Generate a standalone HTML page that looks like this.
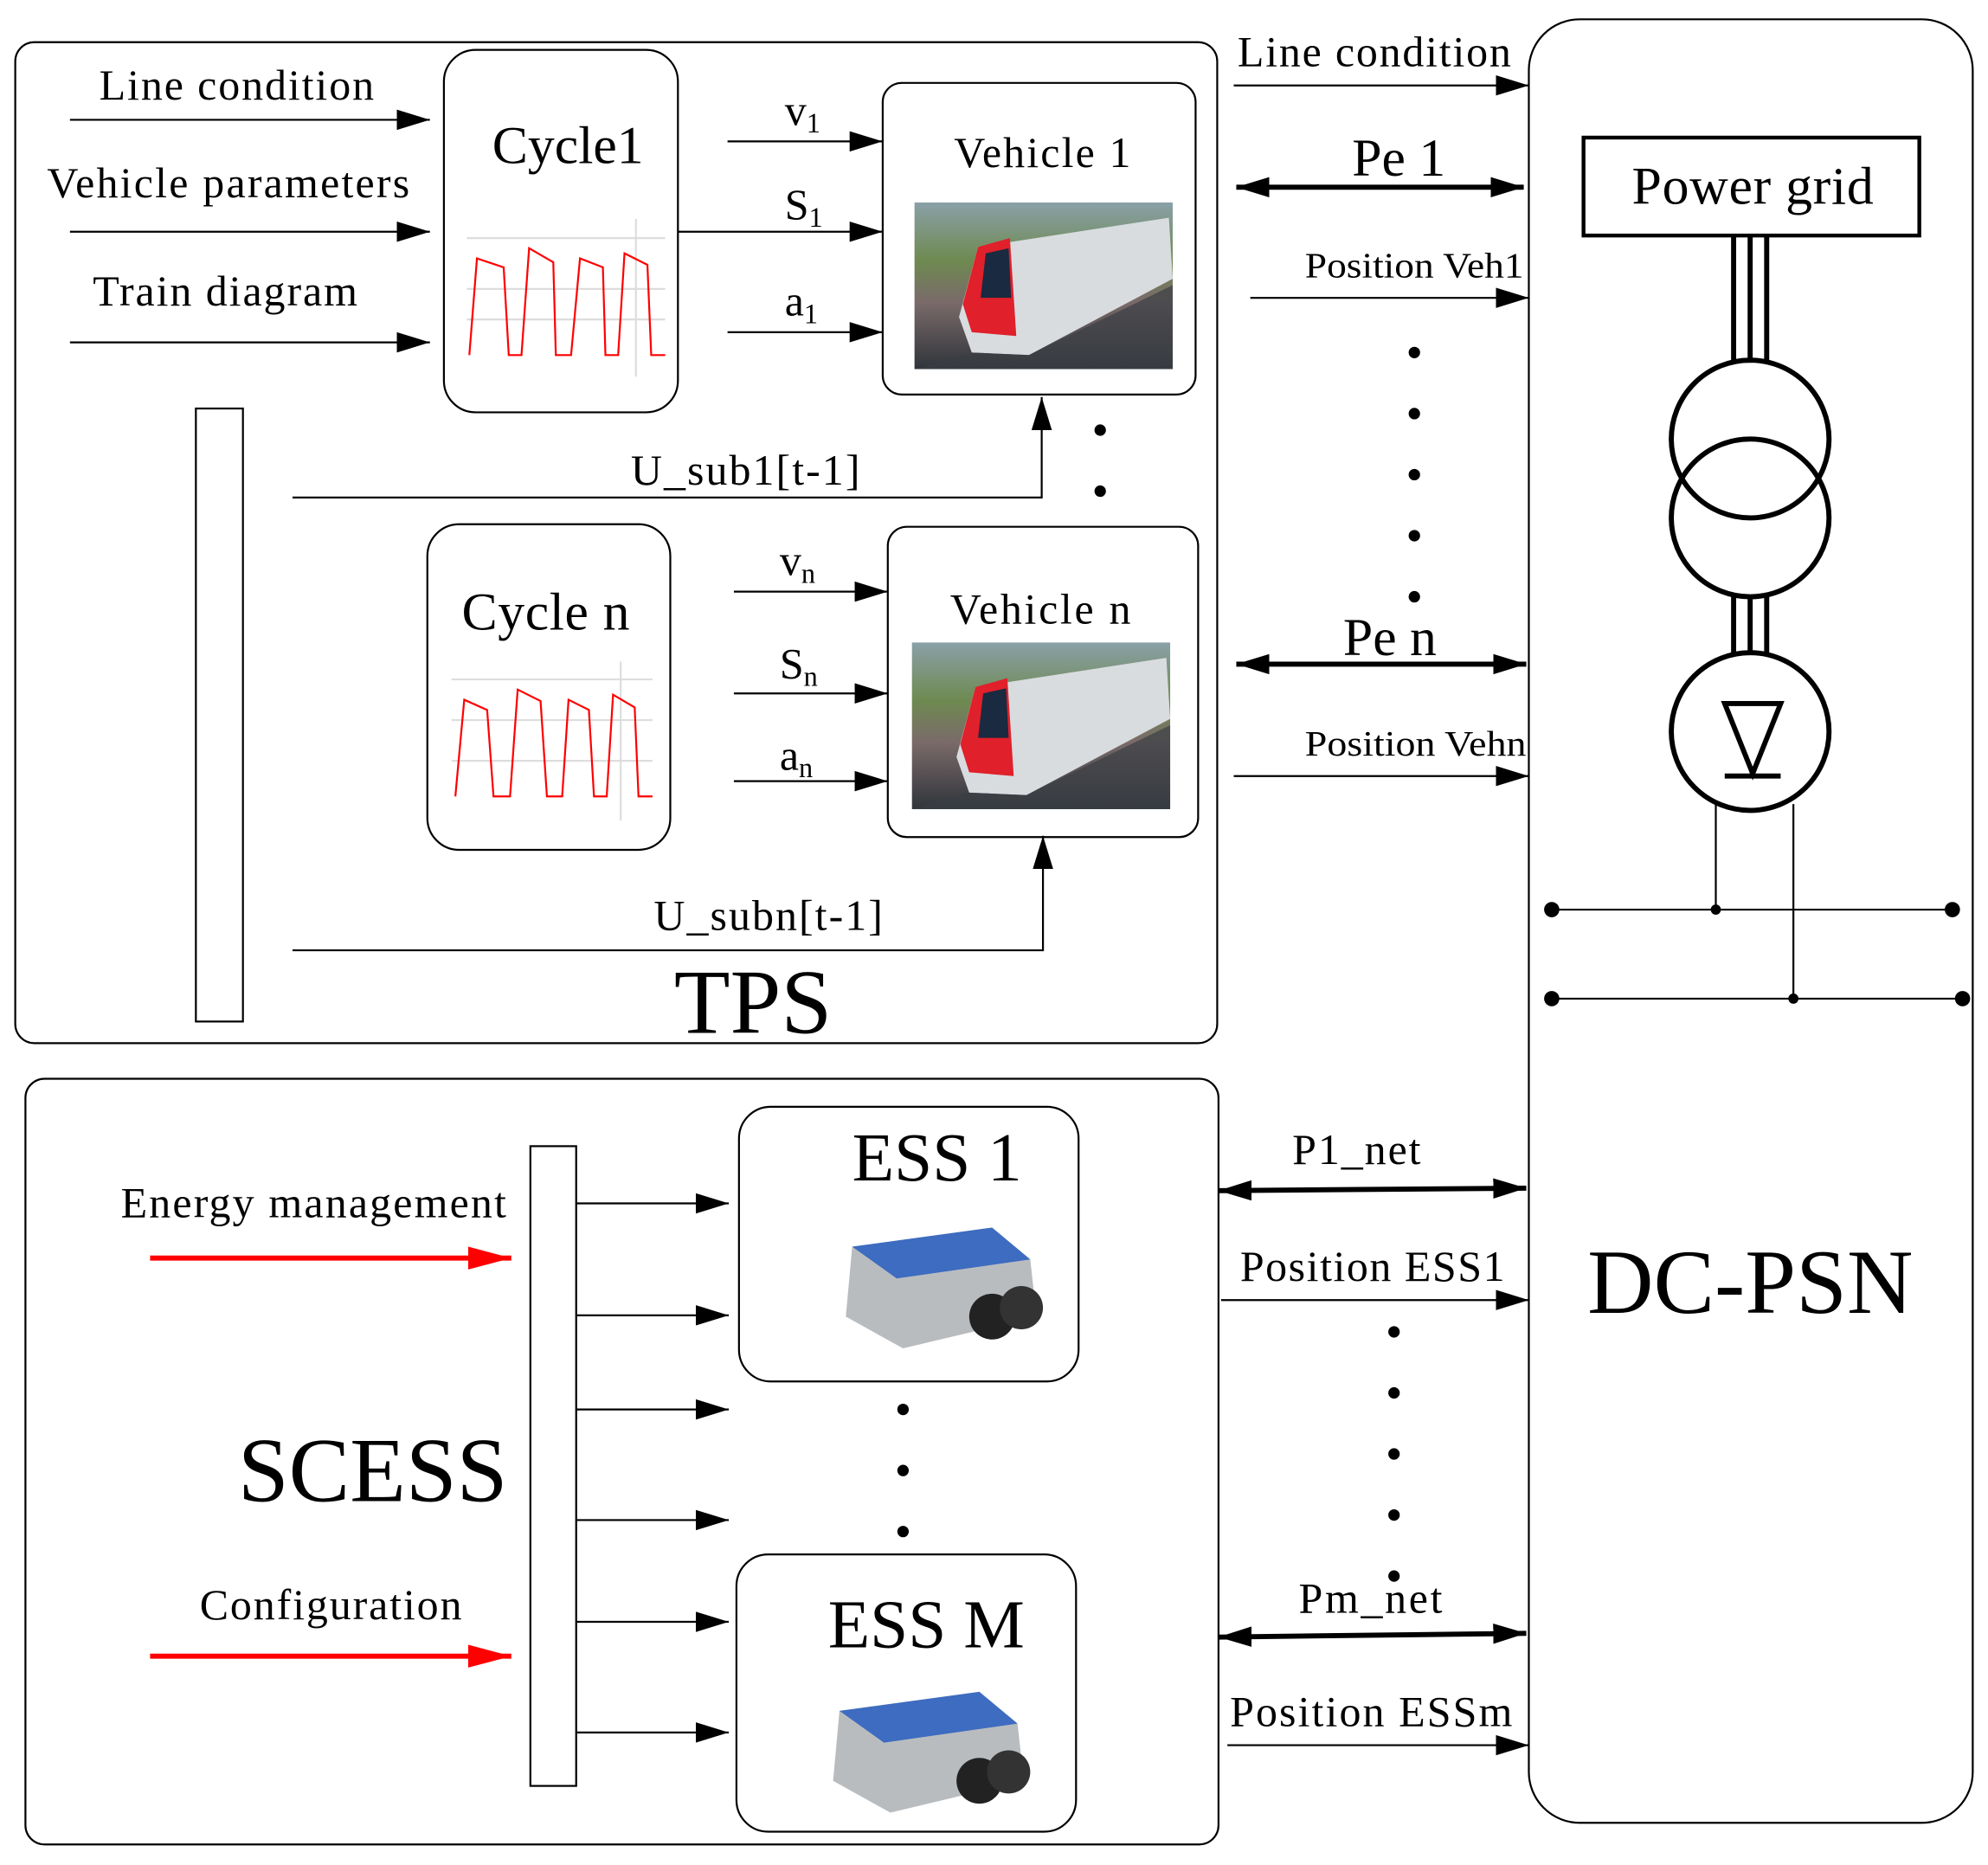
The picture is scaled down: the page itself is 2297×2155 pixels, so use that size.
<!DOCTYPE html>
<html><head><meta charset="utf-8"><style>html,body{margin:0;padding:0;background:#fff}svg{display:block}text{font-family:"Liberation Serif",serif;fill:#000}</style></head><body>
<svg width="2297" height="2155" viewBox="0 0 1563 1466" xmlns="http://www.w3.org/2000/svg">
<defs>
<marker id="A" markerWidth="26" markerHeight="16" refX="26" refY="8" orient="auto" markerUnits="userSpaceOnUse" viewBox="0 0 26 16"><path d="M0,0L26,8L0,16z"/></marker>
<marker id="As" markerWidth="26" markerHeight="16" refX="0" refY="8" orient="auto" markerUnits="userSpaceOnUse" viewBox="0 0 26 16"><path d="M26,0L0,8L26,16z"/></marker>
<marker id="R" markerWidth="34" markerHeight="18" refX="34" refY="9" orient="auto" markerUnits="userSpaceOnUse" viewBox="0 0 34 18"><path d="M0,0L34,9L0,18z" fill="#f00"/></marker>
<linearGradient id="tr" x1="0" y1="0" x2="0" y2="1"><stop offset="0" stop-color="#8aa0a8"/><stop offset="0.35" stop-color="#6e8a50"/><stop offset="0.6" stop-color="#7a6a6a"/><stop offset="1" stop-color="#30353a"/></linearGradient>
<g id="train">
<rect x="0" y="0" width="203" height="131" fill="url(#tr)"/>
<path d="M50,35 L200,12 L203,60 L90,120 L45,118 L35,90 Z" fill="#d8dcdf"/>
<path d="M50,35 L75,28 L80,105 L45,102 L38,80 Z" fill="#e0202a"/>
<path d="M56,40 L74,36 L76,75 L52,75 Z" fill="#1a2a40"/>
<path d="M45,118 L90,120 L203,65 L203,131 L0,131 Z" fill="#3a3f45" opacity="0.7"/>
</g>
<g id="ess">
<path d="M10,15 L120,0 L150,25 L155,70 L50,95 L5,70 Z" fill="#b9bcbf"/>
<path d="M10,15 L120,0 L150,25 L45,40 Z" fill="#3d6cc0"/>
<circle cx="120" cy="70" r="18" fill="#222"/><circle cx="143" cy="63" r="17" fill="#333"/>
</g>
</defs>
<g fill="none" stroke="#000" stroke-width="1.5">
<rect x="12" y="33" width="945" height="787" rx="15"/>
<rect x="20" y="848" width="938" height="602" rx="15"/>
<rect x="1202" y="15" width="349" height="1418" rx="40"/>
<rect x="349" y="39" width="184" height="285" rx="25"/>
<rect x="694" y="65" width="246" height="245" rx="15"/>
<rect x="336" y="412" width="191" height="256" rx="25"/>
<rect x="698" y="414" width="244" height="244" rx="15"/>
<rect x="154" y="321" width="37" height="482"/>
<rect x="581" y="870" width="267" height="216" rx="25"/>
<rect x="579" y="1222" width="267" height="218" rx="25"/>
<rect x="417" y="901" width="36" height="503"/>
<rect x="1245" y="108" width="264" height="77" stroke-width="3"/>
</g>
<use href="#train" x="719" y="159"/>
<use href="#train" x="717" y="505"/>
<use href="#ess" x="660" y="965"/>
<use href="#ess" x="650" y="1330"/>
<g stroke="#ddd" stroke-width="1.5"><line x1="367" y1="187" x2="523" y2="187"/><line x1="367" y1="227" x2="523" y2="227"/><line x1="367" y1="251" x2="523" y2="251"/><line x1="500" y1="172" x2="500" y2="296"/>
<line x1="355" y1="534" x2="513" y2="534"/><line x1="355" y1="566" x2="513" y2="566"/><line x1="355" y1="598" x2="513" y2="598"/><line x1="488" y1="520" x2="488" y2="645"/></g>
<polyline fill="none" stroke="#f00" stroke-width="1.5" points="369,279 375,203 396,210 400,279 410,279 416,195 435,206 437,279 449,279 456,203 474,210 476,279 486,279 491,199 509,208 512,279 523,279"/>
<polyline fill="none" stroke="#f00" stroke-width="1.5" points="358,626 365,550 383,558 388,626 401,626 407,542 425,551 430,626 442,626 447,550 463,558 467,626 477,626 482,546 499,556 502,626 513,626"/>
<g stroke="#000" stroke-width="1.5" fill="none" marker-end="url(#A)">
<line x1="55" y1="94" x2="338" y2="94"/><line x1="55" y1="182" x2="338" y2="182"/><line x1="55" y1="269" x2="338" y2="269"/>
<line x1="572" y1="111" x2="694" y2="111"/><line x1="533" y1="182" x2="694" y2="182"/><line x1="572" y1="261" x2="694" y2="261"/>
<polyline points="230,391 819,391 819,312"/>
<line x1="577" y1="465" x2="698" y2="465"/><line x1="577" y1="545" x2="698" y2="545"/><line x1="577" y1="614" x2="698" y2="614"/>
<polyline points="230,747 820,747 820,657"/>
<line x1="970" y1="67" x2="1202" y2="67"/><line x1="983" y1="234" x2="1202" y2="234"/><line x1="970" y1="610" x2="1202" y2="610"/>
<line x1="960" y1="1022" x2="1202" y2="1022"/><line x1="965" y1="1372" x2="1202" y2="1372"/>
<line x1="453" y1="946" x2="573" y2="946"/><line x1="453" y1="1034" x2="573" y2="1034"/><line x1="453" y1="1108" x2="573" y2="1108"/><line x1="453" y1="1195" x2="573" y2="1195"/><line x1="453" y1="1275" x2="573" y2="1275"/><line x1="453" y1="1362" x2="573" y2="1362"/>
</g>
<g stroke="#000" stroke-width="4" marker-end="url(#A)" marker-start="url(#As)">
<line x1="972" y1="147" x2="1198" y2="147"/><line x1="972" y1="522" x2="1200" y2="522"/>
<line x1="958" y1="936" x2="1200" y2="934"/><line x1="958" y1="1287" x2="1200" y2="1284"/>
</g>
<g stroke="#f00" stroke-width="4" marker-end="url(#R)"><line x1="118" y1="989" x2="402" y2="989"/><line x1="118" y1="1302" x2="402" y2="1302"/></g>
<g stroke="#000" stroke-width="4" fill="none">
<line x1="1363" y1="185" x2="1363" y2="285"/><line x1="1376" y1="185" x2="1376" y2="285"/><line x1="1389" y1="185" x2="1389" y2="285"/>
<circle cx="1376" cy="345" r="62"/><circle cx="1376" cy="407" r="62"/>
<line x1="1363" y1="469" x2="1363" y2="513"/><line x1="1376" y1="469" x2="1376" y2="513"/><line x1="1389" y1="469" x2="1389" y2="513"/>
<circle cx="1376" cy="575" r="62"/>
<path d="M1356,553 L1400,553 L1378,608 Z"/><line x1="1356" y1="610" x2="1400" y2="610"/>
</g>
<g stroke="#000" stroke-width="1.5"><line x1="1220" y1="715" x2="1535" y2="715"/><line x1="1220" y1="785" x2="1543" y2="785"/><line x1="1349" y1="632" x2="1349" y2="715"/><line x1="1410" y1="632" x2="1410" y2="785"/></g>
<g fill="#000"><circle cx="1220" cy="715" r="6"/><circle cx="1535" cy="715" r="6"/><circle cx="1349" cy="715" r="4"/><circle cx="1220" cy="785" r="6"/><circle cx="1543" cy="785" r="6"/><circle cx="1410" cy="785" r="4"/>
<circle cx="865" cy="338" r="4.5"/><circle cx="865" cy="386" r="4.5"/>
<circle cx="1112" cy="277" r="4.5"/><circle cx="1112" cy="325" r="4.5"/><circle cx="1112" cy="373" r="4.5"/><circle cx="1112" cy="421" r="4.5"/><circle cx="1112" cy="469" r="4.5"/>
<circle cx="710" cy="1108" r="4.5"/><circle cx="710" cy="1156" r="4.5"/><circle cx="710" cy="1204" r="4.5"/>
<circle cx="1096" cy="1047" r="4.5"/><circle cx="1096" cy="1095" r="4.5"/><circle cx="1096" cy="1143" r="4.5"/><circle cx="1096" cy="1191" r="4.5"/><circle cx="1096" cy="1239" r="4.5"/></g>
<g font-size="34" lengthAdjust="spacingAndGlyphs">
<text x="78" y="78" textLength="216">Line condition</text><text x="37" y="155" textLength="285">Vehicle parameters</text><text x="73" y="240" textLength="208">Train diagram</text>
<text x="750" y="131" textLength="139">Vehicle 1</text><text x="747" y="490" textLength="142">Vehicle n</text>
<text x="496" y="381" textLength="180">U_sub1[t-1]</text><text x="514" y="731" textLength="180">U_subn[t-1]</text>
<text x="973" y="52" textLength="215">Line condition</text>
<text x="95" y="957" textLength="303">Energy management</text><text x="157" y="1273" textLength="206">Configuration</text>
<text x="1016" y="915" textLength="101">P1_net</text><text x="975" y="1007" textLength="208">Position ESS1</text><text x="1021" y="1268" textLength="113">Pm_net</text><text x="967" y="1357" textLength="222">Position ESSm</text>
<text x="617" y="98">v<tspan font-size="22" dy="6">1</tspan></text><text x="617" y="172">S<tspan font-size="22" dy="6">1</tspan></text><text x="617" y="248">a<tspan font-size="22" dy="6">1</tspan></text>
<text x="613" y="452">v<tspan font-size="22" dy="6">n</tspan></text><text x="613" y="533">S<tspan font-size="22" dy="6">n</tspan></text><text x="613" y="605">a<tspan font-size="22" dy="6">n</tspan></text>
</g>
<g font-size="28"><text x="1026" y="218" textLength="172" lengthAdjust="spacingAndGlyphs">Position Veh1</text><text x="1026" y="594" textLength="174" lengthAdjust="spacingAndGlyphs">Position Vehn</text></g>
<g font-size="42" lengthAdjust="spacingAndGlyphs"><text x="387" y="128" textLength="119">Cycle1</text><text x="363" y="495" textLength="132">Cycle n</text><text x="1063" y="138">Pe 1</text><text x="1056" y="515">Pe n</text><text x="1283" y="160" textLength="190">Power grid</text></g>
<g font-size="54"><text x="670" y="928">ESS 1</text><text x="651" y="1295">ESS M</text></g>
<g font-size="72"><text x="530" y="812">TPS</text><text x="187" y="1180">SCESS</text><text x="1248" y="1032">DC-PSN</text></g>
</svg>
</body></html>
